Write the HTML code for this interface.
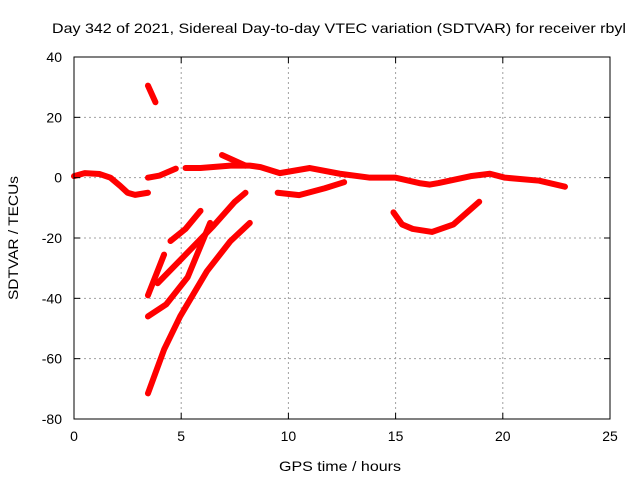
<!DOCTYPE html>
<html><head><meta charset="utf-8"><style>
body{margin:0;background:#fff}
svg text{font-family:"Liberation Sans",sans-serif;font-size:14px;fill:#000}
</style></head><body>
<svg id="chart" width="640" height="480">
<rect width="640" height="480" fill="#fff"/>
<g id="grid"></g>
<g id="series"></g>
<rect x="74" y="57" width="536" height="362" fill="none" stroke="#000" stroke-width="1"/>
<g id="ticks"></g>
<text x="339" y="33" text-anchor="middle" textLength="574" lengthAdjust="spacingAndGlyphs">Day 342 of 2021, Sidereal Day-to-day VTEC variation (SDTVAR) for receiver rbyl</text>
<text x="340" y="471" text-anchor="middle" textLength="122" lengthAdjust="spacingAndGlyphs">GPS time / hours</text>
<text x="18" y="238" text-anchor="middle" transform="rotate(-90 18 238)" textLength="124" lengthAdjust="spacingAndGlyphs">SDTVAR / TECUs</text>
</svg>
<script>
const xTicks=[0,5,10,15,20,25];
const yTicks=[40,20,0,-20,-40,-60,-80];
const seg1=[[0,0.5],[0.5,1.5],[1.2,1.2],[1.7,0],[2.15,-2.7],[2.5,-5],[2.85,-5.7],[3.45,-5]];
const seg2=[[3.45,0],[4,0.7],[4.75,3]];
const seg3=[[5.2,3.2],[5.9,3.2],[7.3,4],[8.2,4],[8.7,3.5],[9.6,1.5],[11,3.2],[12.4,1.3],[13.8,0],[15,0],[16.1,-1.8],[16.6,-2.3],[17,-1.8],[18.5,0.5],[19.4,1.3],[20.1,0],[21.7,-1],[22.9,-3]];
const seg4=[[6.9,7.5],[8,4]];
const seg5=[[9.5,-5],[10.5,-5.8],[11.7,-3.5],[12.6,-1.5]];
const seg6=[[14.9,-11.5],[15.3,-15.5],[15.8,-17],[16.7,-18],[17.7,-15.5],[18.9,-8]];
const seg7=[[3.45,30.5],[3.8,25]];
const seg8=[[4.5,-21],[5.2,-17],[5.9,-11]];
const seg9=[[3.45,-39],[4.2,-25.5]];
const seg10=[[3.9,-35],[5,-27],[6.5,-16],[7.5,-8],[8,-5]];
const seg11=[[3.45,-46],[4.3,-42],[5.3,-33],[6.35,-15]];
const seg12=[[3.45,-71.5],[4.2,-57],[4.95,-46],[6.2,-31],[7.3,-21],[8.2,-15]];
const allSegs=[seg1,seg2,seg3,seg4,seg5,seg6,seg7,seg8,seg9,seg10,seg11,seg12];
const X0=74,X1=610,Y0=419,Y1=57;
const sx=v=>X0+(v-0)/(25-0)*(X1-X0);
const sy=v=>Y0-(v+80)/120*(Y0-Y1);
const NS='http://www.w3.org/2000/svg';
const grid=document.getElementById('grid'),ticks=document.getElementById('ticks'),ser=document.getElementById('series');
function mk(t,a){const e=document.createElementNS(NS,t);for(const k in a)e.setAttribute(k,a[k]);return e;}
xTicks.forEach(v=>{const x=sx(v);
 if(v>0&&v<25){const g=mk('line',{x1:x,x2:x,y1:Y1,y2:Y0,stroke:'#a0a0a0','stroke-dasharray':'2,3'});
 
 grid.appendChild(g);}
 ticks.appendChild(mk('line',{x1:x,x2:x,y1:Y0,y2:Y0-6,stroke:'#000'}));
 ticks.appendChild(mk('line',{x1:x,x2:x,y1:Y1,y2:Y1+6,stroke:'#000'}));
 const l=mk('text',{x:x,y:Y0+22,'text-anchor':'middle'});l.textContent=v;
 
 ticks.appendChild(l);});
yTicks.forEach(v=>{const y=sy(v);
 if(v>-80&&v<40){const g=mk('line',{x1:X0,x2:X1,y1:y,y2:y,stroke:'#a0a0a0','stroke-dasharray':'2,3'});
 
 grid.appendChild(g);}
 ticks.appendChild(mk('line',{x1:X0,x2:X0+6,y1:y,y2:y,stroke:'#000'}));
 ticks.appendChild(mk('line',{x1:X1,x2:X1-6,y1:y,y2:y,stroke:'#000'}));
 const l=mk('text',{x:X0-12,y:y+5,'text-anchor':'end'});l.textContent=v;
 
 ticks.appendChild(l);});
allSegs.forEach(s=>{const p=mk('polyline',{points:s.map(d=>sx(d[0])+','+sy(d[1])).join(' '),fill:'none',stroke:'#f00','stroke-width':6,'stroke-linejoin':'round','stroke-linecap':'round'});
 
 ser.appendChild(p);});
</script>
</body></html>
